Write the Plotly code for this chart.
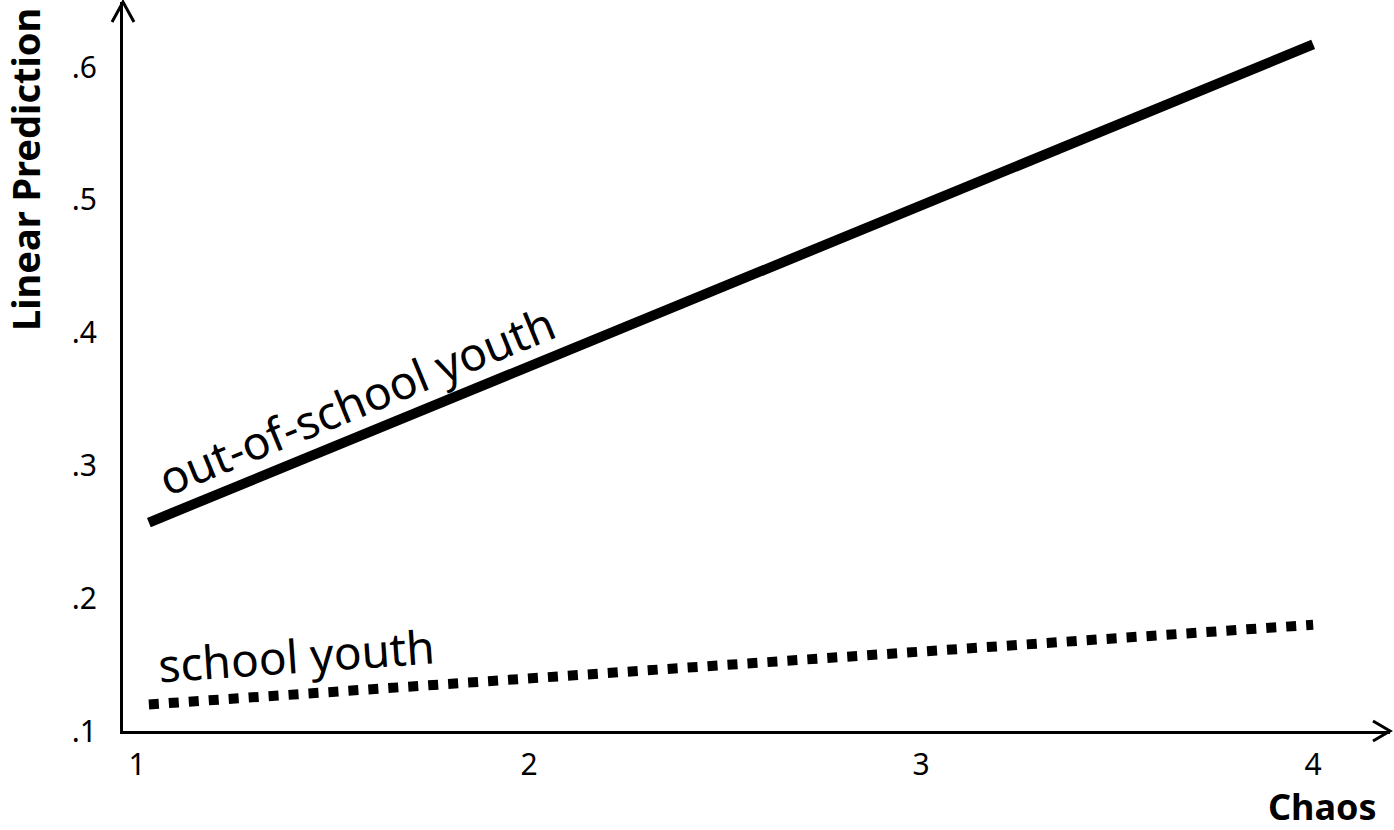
import plotly.graph_objects as go

# values
chaos = [1.03, 4.0]
out_of_school = [0.257, 0.617]
school = [0.120, 0.180]

x_ticks = [1, 2, 3, 4]
x_ticktext = ["1", "2", "3", "4"]
y_ticks = [0.1, 0.2, 0.3, 0.4, 0.5, 0.6]
y_ticktext = [".1", ".2", ".3", ".4", ".5", ".6"]

FONT = "Noto Sans, Open Sans, sans-serif"

fig = go.Figure()

fig.add_trace(go.Scatter(
    x=chaos, y=out_of_school, mode="lines",
    line=dict(color="black", width=10),
    name="out-of-school youth", hoverinfo="skip",
))
fig.add_trace(go.Scatter(
    x=chaos, y=school, mode="lines",
    line=dict(color="black", width=10, dash="10px,10px"),
    name="school youth", hoverinfo="skip",
))

# line labels
fig.add_annotation(x=1.559, y=0.349, text="out-of-school youth", showarrow=False,
                   textangle=-22.3, xanchor="center", yanchor="middle",
                   font=dict(size=46, color="black", family=FONT))
fig.add_annotation(x=1.406, y=0.157, text="school youth", showarrow=False,
                   textangle=-4, xanchor="center", yanchor="middle",
                   font=dict(size=46, color="black", family=FONT))

# axis titles
fig.add_annotation(xref="paper", yref="paper", x=-0.0773, y=0.7695,
                   text="<b>Linear Prediction</b>", showarrow=False, textangle=-90,
                   xanchor="center", yanchor="middle",
                   font=dict(size=38, color="black", family=FONT))
fig.add_annotation(xref="paper", yref="paper", x=0.947, y=-0.103,
                   text="<b>Chaos</b>", showarrow=False,
                   xanchor="center", yanchor="middle",
                   font=dict(size=36, color="black", family=FONT))

# open arrowheads at the axis ends
fig.add_shape(type="path", xref="paper", yref="paper", xsizemode="pixel", ysizemode="pixel",
              xanchor=0, yanchor=1, path="M -11,-20 L 0,0 L 11,-20",
              line=dict(color="black", width=3))
fig.add_shape(type="path", xref="paper", yref="paper", xsizemode="pixel", ysizemode="pixel",
              xanchor=1, yanchor=0, path="M -17,10 L 0,0 L -17,-10",
              line=dict(color="black", width=3))

fig.update_xaxes(
    range=[0.964, 4.196], showgrid=False, zeroline=False,
    showline=True, linecolor="black", linewidth=3,
    tickvals=x_ticks, ticktext=x_ticktext, ticks="",
    ticklabelstandoff=5,
    tickfont=dict(size=30, color="black", family=FONT),
)
fig.update_yaxes(
    range=[0.1, 0.649], showgrid=False, zeroline=False,
    showline=True, linecolor="black", linewidth=3,
    tickvals=y_ticks, ticktext=y_ticktext, ticks="",
    ticklabelstandoff=17,
    tickfont=dict(size=30, color="black", family=FONT),
)

fig.update_layout(
    width=1394, height=830,
    margin=dict(l=123, r=4, t=2, b=99),
    plot_bgcolor="white", paper_bgcolor="white",
    showlegend=False,
)

# drop the browser's default page margin so the figure sits at the window corner
fig.write_html("out.html", config={"displayModeBar": False},
               post_script="document.body.style.margin = '0';")
